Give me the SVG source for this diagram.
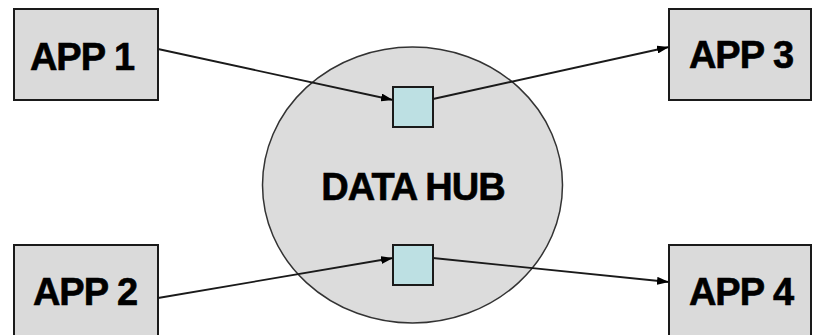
<svg xmlns="http://www.w3.org/2000/svg" width="813" height="335" viewBox="0 0 813 335">
  <style>
    .app { fill: #dadada; stroke: #1a1a1a; stroke-width: 2; }
    .hub { fill: #dcdcdc; stroke: #333333; stroke-width: 1.5; }
    .port { fill: #bde0e3; stroke: #1a1a1a; stroke-width: 2; }
    .lbl { font-family: "Liberation Sans", Arial, sans-serif; font-weight: bold; font-size: 38px; fill: #000; stroke: #000; stroke-width: 0.6; text-anchor: middle; letter-spacing: -1px; }
    .link { stroke: #1a1a1a; stroke-width: 1.8; fill: none; marker-end: url(#arrow); }
  </style>
  <defs>
    <marker id="arrow" viewBox="0 0 12 8" refX="12" refY="4" markerWidth="12" markerHeight="8" markerUnits="userSpaceOnUse" orient="auto">
      <path d="M0,0 L12,4 L0,8 Z" fill="#000"/>
    </marker>
  </defs>
  <rect width="813" height="335" fill="#ffffff"/>

  <g id="hub">
    <ellipse class="hub" cx="412.5" cy="185" rx="150" ry="138"/>
    <text class="lbl" x="413" y="200">DATA HUB</text>
  </g>

  <g id="port-in">
    <rect class="port" x="393" y="87" width="40" height="40"/>
  </g>
  <g id="port-out">
    <rect class="port" x="393" y="245" width="40" height="40"/>
  </g>

  <g id="app1">
    <rect class="app" x="14" y="9" width="144" height="91"/>
    <text class="lbl" x="82" y="70">APP 1</text>
  </g>
  <g id="app2">
    <rect class="app" x="14" y="245" width="144" height="91"/>
    <text class="lbl" x="85" y="305">APP 2</text>
  </g>
  <g id="app3">
    <rect class="app" x="669" y="9" width="142" height="91"/>
    <text class="lbl" x="741" y="68">APP 3</text>
  </g>
  <g id="app4">
    <rect class="app" x="669" y="245" width="142" height="91"/>
    <text class="lbl" x="741" y="305">APP 4</text>
  </g>

  <g id="connectors">
    <line class="link" x1="158" y1="49" x2="393" y2="100"/>
    <line class="link" x1="433" y1="99" x2="669" y2="47"/>
    <line class="link" x1="158" y1="298" x2="393" y2="258"/>
    <line class="link" x1="433" y1="258" x2="669" y2="282"/>
  </g>
</svg>
